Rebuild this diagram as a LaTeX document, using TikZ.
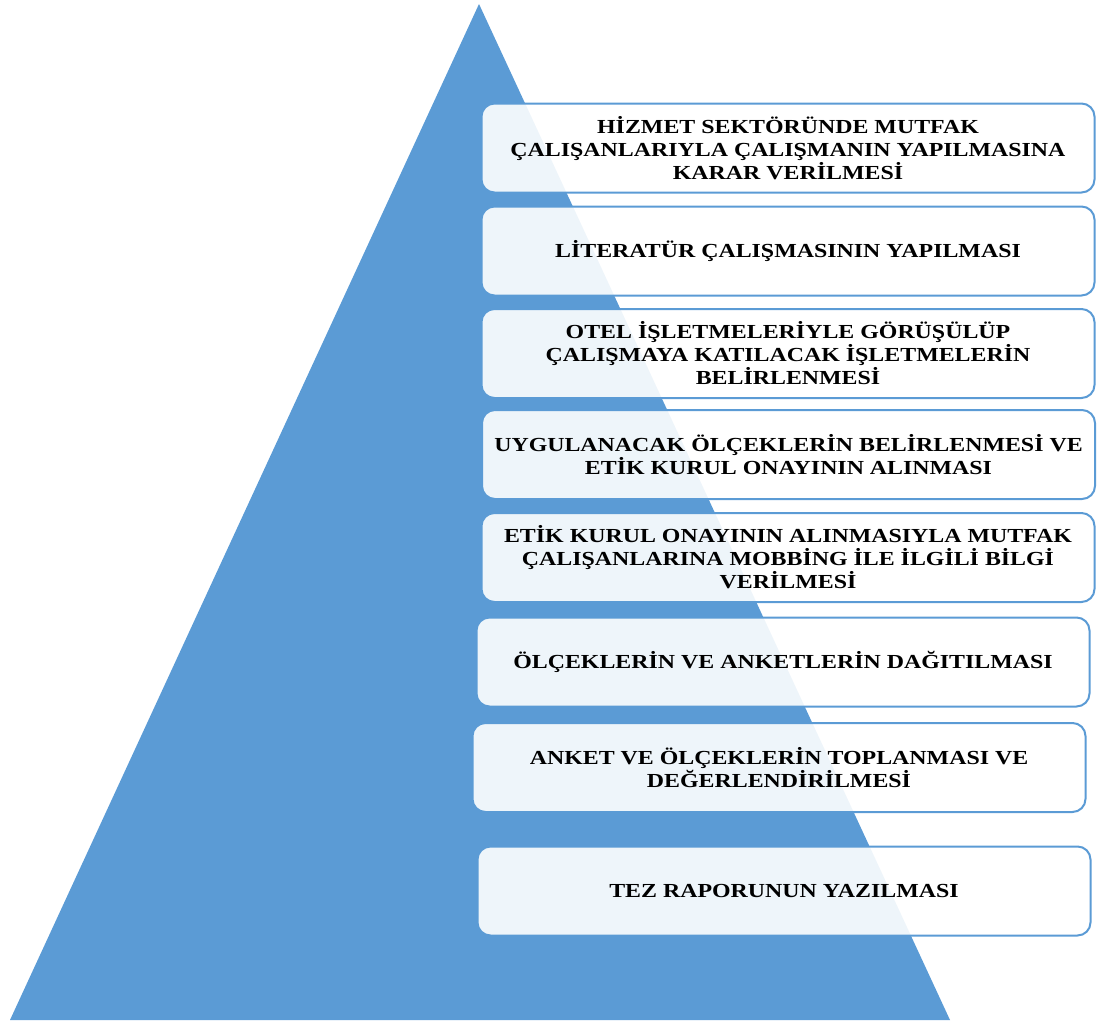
\documentclass[tikz,border=0pt]{standalone}
\usepackage{fontspec}
\setmainfont{Liberation Serif}[FakeStretch=1.2]
\usetikzlibrary{positioning}
\definecolor{piramit}{HTML}{5B9BD5}

\begin{document}
\begin{tikzpicture}[x=1pt, y=-1pt,
  adim/.style={draw=piramit, line width=2pt, rounded corners=13pt,
               fill=white, fill opacity=0.9, text opacity=1,
               minimum width=613pt, minimum height=89pt, inner sep=0pt,
               font=\fontsize{19.9}{23}\selectfont\bfseries, align=center},
  pyr/.style={fill=piramit}
]
  \useasboundingbox (0,0) rectangle (1097,1020);

  % pyramid behind the steps
  \coordinate (tepe) at (479,4);
  \coordinate (solalt) at (10,1020);
  \coordinate (sagalt) at (950,1020);
  \fill[pyr] (solalt) -- (tepe) -- (sagalt) -- cycle;

  % steps
  \node[adim] (karar)    at (788,148)   {HİZMET SEKTÖRÜNDE MUTFAK\\ÇALIŞANLARIYLA ÇALIŞMANIN YAPILMASINA\\KARAR VERİLMESİ};
  \node[adim] (literatur) at (788,251)  {LİTERATÜR ÇALIŞMASININ YAPILMASI};
  \node[adim] (otel)     at (788,353.5) {OTEL İŞLETMELERİYLE GÖRÜŞÜLÜP\\ÇALIŞMAYA KATILACAK İŞLETMELERİN\\BELİRLENMESİ};
  \node[adim] (olcek)    at (788.5,454.5) {UYGULANACAK ÖLÇEKLERİN BELİRLENMESİ VE\\ETİK KURUL ONAYININ ALINMASI};
  \node[adim] (bilgi)    at (788,557.5) {ETİK KURUL ONAYININ ALINMASIYLA MUTFAK\\ÇALIŞANLARINA MOBBİNG İLE İLGİLİ BİLGİ\\VERİLMESİ};
  \node[adim] (dagitim)  at (783,662)   {ÖLÇEKLERİN VE ANKETLERİN DAĞITILMASI};
  \node[adim] (toplama)  at (779,767.5) {ANKET VE ÖLÇEKLERİN TOPLANMASI VE\\DEĞERLENDİRİLMESİ};
  \node[adim] (tez)      at (784,891)   {TEZ RAPORUNUN YAZILMASI};

\end{tikzpicture}
\end{document}
